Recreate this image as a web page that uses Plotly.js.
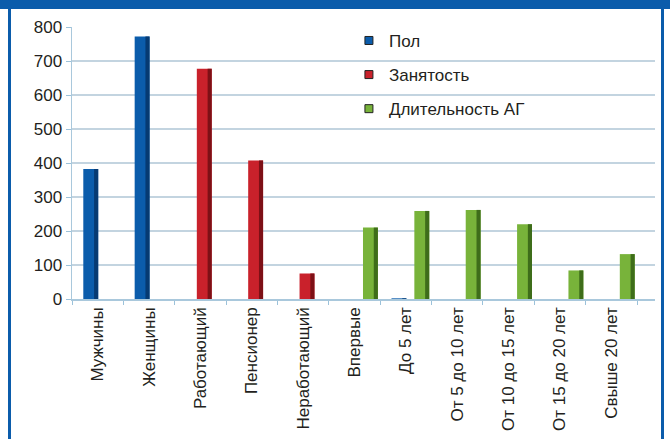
<!DOCTYPE html>
<html><head><meta charset="utf-8">
<script src="https://cdn.plot.ly/plotly-3.0.1.min.js"></script>
<style>
html,body{margin:0;padding:0;background:#fff;overflow:hidden}
#chart{position:absolute;left:0;top:0;width:670px;height:439px}
.frame{position:absolute;background:#0b5cab;pointer-events:none}
</style></head><body>
<div id="chart"></div>
<div class="frame" style="left:0;top:0;width:670px;height:9px"></div>
<div class="frame" style="left:8px;top:9px;width:3px;height:430px"></div>
<div class="frame" style="left:661px;top:9px;width:3px;height:430px"></div>
<script>
const categories = ['Мужчины','Женщины','Работающий','Пенсионер','Неработающий','Впервые','До 5 лет','От 5 до 10 лет','От 10 до 15 лет','От 15 до 20 лет','Свыше 20 лет'];
const seriesNames = ['Пол','Занятость','Длительность АГ'];
const polValues = [382, 772, null, null, null, null, 2, null, null, null, null];
const zanyatostValues = [null, null, 677, 407, 75, null, null, null, null, null, null];
const dlitelnostValues = [null, null, null, null, null, 210, 259, 262, 220, 84, 132];
const yTicks = [0,100,200,300,400,500,600,700,800];

const colors = ['#0b5cab','#c9212b','#78b33a'];
const darkColors = ['#063a72','#7d1016','#3e6d1a'];
const offsets = [-0.28, -0.07, 0.165];
const W = 0.29, SW = 0.08;
const allValues = [polValues, zanyatostValues, dlitelnostValues];

const traces = [];
allValues.forEach((vals, i) => {
  traces.push({type:'bar', x:categories, y:vals, offset:offsets[i], width:W,
    marker:{color:colors[i], line:{width:0}}, showlegend:false, hoverinfo:'skip'});
  traces.push({type:'bar', x:categories, y:vals, offset:offsets[i]+W-SW, width:SW,
    marker:{color:darkColors[i], line:{width:0}}, showlegend:false, hoverinfo:'skip'});
});
seriesNames.forEach((n, i) => {
  traces.push({type:'scatter', mode:'markers', x:[null], y:[null], name:n, legendgroup:'g'+i,
    marker:{symbol:'square', size:8, color:colors[i], line:{width:1, color:'#222'}}});
});

const font = {family:'Liberation Sans, Arial, Helvetica, sans-serif', size:17, color:'#231f20'};
const layout = {
  width:670, height:439,
  margin:{l:72, r:15, t:27, b:140, pad:0},
  paper_bgcolor:'rgba(0,0,0,0)', plot_bgcolor:'#fff',
  font:font,
  barmode:'overlay',
  showlegend:true,
  legend:{x:0.475, xanchor:'left', y:1.015, yanchor:'top', font:font, tracegroupgap:9,
    bgcolor:'rgba(0,0,0,0)'},
  xaxis:{type:'category', range:[-0.5, 10.85], tickangle:-90, ticks:'outside', tickson:'boundaries',
    ticklen:4, tickcolor:'#9cc2da', showline:true, linecolor:'#a9c8dc', linewidth:1.5,
    showgrid:false, zeroline:false, tickfont:font, fixedrange:true},
  yaxis:{range:[0,800], tickvals:yTicks, ticktext:yTicks.map(String), ticks:'outside', ticklen:5,
    tickcolor:'#9cc2da', showline:true, linecolor:'#a9c8dc', linewidth:1.5,
    showgrid:true, gridcolor:'#c3d4e0', gridwidth:1.5, zeroline:false, tickfont:font, fixedrange:true}
};
Plotly.newPlot('chart', traces, layout, {staticPlot:true, displayModeBar:false});
</script>
</body></html>
